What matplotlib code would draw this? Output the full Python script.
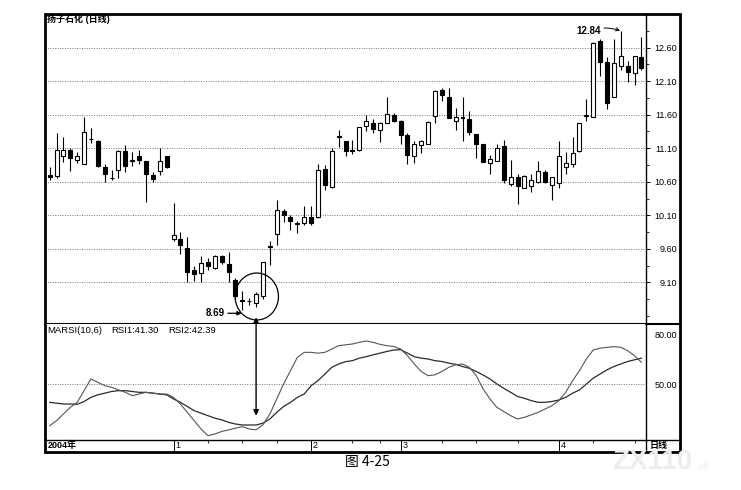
import numpy as np
import matplotlib
matplotlib.use('Agg')
import matplotlib.pyplot as plt
from matplotlib.patches import Ellipse, Rectangle, ConnectionPatch
from matplotlib.lines import Line2D
from matplotlib.transforms import blended_transform_factory

plt.rcParams['font.family'] = ['Liberation Sans', 'Noto Sans CJK SC']

# daily candles
opens = [10.70, 10.69, 10.99, 11.07, 10.92, 10.86, 11.24, 11.21, 10.82, 10.66,
         10.78, 11.06, 10.92, 10.99, 10.91, 10.70, 10.76, 10.99, 9.74, 9.75,
         9.62, 9.29, 9.24, 9.41, 9.31, 9.49, 9.38, 9.14, 8.84, 8.83,
         8.80, 8.89, 9.63, 9.82, 10.17, 10.08, 9.97, 9.99, 10.08, 10.08,
         10.79, 10.52, 11.28, 11.21, 11.06, 11.07, 11.43, 11.48, 11.37, 11.47,
         11.59, 11.50, 11.30, 10.98, 11.15, 11.17, 11.58, 11.96, 11.87, 11.50,
         11.56, 11.54, 11.31, 11.16, 10.88, 10.91, 11.14, 10.56, 10.67, 10.51,
         10.54, 10.60, 10.75, 10.55, 10.58, 10.82, 10.86, 11.06, 11.58, 11.57,
         12.70, 12.38, 11.87, 12.33, 12.32, 12.22, 12.46]
highs = [10.82, 11.32, 11.26, 11.10, 11.05, 11.57, 11.40, 11.22, 10.87, 10.78,
         11.08, 11.15, 11.05, 11.07, 10.91, 10.75, 11.11, 10.99, 10.28, 9.85,
         9.77, 9.34, 9.49, 9.47, 9.51, 9.51, 9.56, 9.16, 8.97, 8.87,
         8.96, 9.41, 9.72, 10.33, 10.20, 10.10, 10.02, 10.24, 10.24, 10.87,
         10.85, 11.10, 11.37, 11.21, 11.22, 11.42, 11.60, 11.53, 11.49, 11.87,
         11.62, 11.52, 11.32, 11.21, 11.22, 11.50, 11.97, 11.99, 11.99, 11.70,
         11.86, 11.65, 11.31, 11.16, 11.00, 11.17, 11.22, 10.92, 10.71, 10.70,
         10.71, 10.91, 10.78, 10.67, 11.20, 11.05, 11.27, 11.48, 11.83, 12.69,
         12.72, 12.46, 12.72, 12.84, 12.40, 12.47, 12.76]
lows = [10.62, 10.65, 10.90, 10.76, 10.88, 10.86, 11.18, 10.82, 10.60, 10.62,
        10.65, 10.75, 10.83, 10.86, 10.30, 10.60, 10.70, 10.81, 9.72, 9.53,
        9.10, 9.12, 9.11, 9.28, 9.30, 9.37, 9.10, 8.85, 8.69, 8.77,
        8.73, 8.85, 9.36, 9.66, 10.00, 9.88, 9.83, 9.96, 9.96, 10.06,
        10.48, 10.50, 11.12, 10.98, 11.02, 11.06, 11.35, 11.32, 11.19, 11.47,
        11.49, 11.16, 10.87, 10.88, 11.03, 11.17, 11.47, 11.80, 11.55, 11.37,
        11.20, 11.30, 10.95, 10.89, 10.72, 10.91, 10.58, 10.53, 10.27, 10.50,
        10.45, 10.58, 10.58, 10.33, 10.50, 10.72, 10.82, 11.05, 11.50, 11.56,
        12.17, 11.69, 11.87, 12.27, 12.09, 12.04, 12.27]
closes = [10.67, 11.08, 11.08, 10.96, 10.98, 11.34, 11.23, 10.84, 10.71, 10.65,
          11.06, 10.83, 10.91, 10.92, 10.71, 10.64, 10.91, 10.82, 9.81, 9.66,
          9.26, 9.22, 9.39, 9.35, 9.49, 9.40, 9.25, 8.89, 8.83, 8.82,
          8.92, 9.41, 9.64, 10.18, 10.11, 10.01, 9.99, 10.08, 9.99, 10.77,
          10.55, 11.06, 11.26, 11.06, 11.07, 11.42, 11.50, 11.38, 11.48, 11.61,
          11.50, 11.29, 11.00, 11.17, 11.21, 11.49, 11.95, 11.89, 11.55, 11.56,
          11.55, 11.34, 11.17, 10.90, 10.94, 11.11, 10.62, 10.67, 10.53, 10.69,
          10.62, 10.76, 10.60, 10.67, 10.98, 10.88, 11.03, 11.48, 11.59, 12.67,
          12.38, 11.78, 12.37, 12.47, 12.23, 12.47, 12.29]

# MARSI(10,6): RSI1 is the smooth line, RSI2 the jumpy one
rsi1 = [39, 38.5, 38, 38, 37.8, 39.5, 42, 43.5, 44.5, 45.5,
        46, 46, 45.5, 45, 45, 44.5, 44, 43.5, 41, 39,
        36.5, 34, 32.5, 31, 29.5, 28.5, 27, 26, 25.4, 25.4,
        25.4, 26.5, 29, 33, 36.5, 39, 42, 44, 49, 52,
        56, 60, 62, 63.4, 64, 65.5, 66.4, 67.5, 68.5, 69.5,
        70.4, 70.6, 68.5, 66.4, 65.5, 65, 64, 63.5, 62.5, 61.8,
        60.5, 59.4, 57.5, 55.4, 53, 50, 47.4, 45, 42.5, 41.4,
        40, 39, 39, 39.5, 40.4, 42, 44.5, 46.4, 50, 53.5,
        56, 58.5, 60.5, 62, 63.5, 64.5, 65.5]
rsi2 = [25, 28, 32, 36, 39, 46, 53, 51, 49, 48,
        46.5, 45, 43, 44, 45, 44.5, 44, 44, 42, 38,
        33, 28, 23, 19, 20, 21.5, 22.5, 23.5, 24.4, 23,
        22.5, 25.5, 32, 41, 50, 58, 66, 69, 69, 68.5,
        69, 71, 73, 73.5, 74, 75, 75.8, 75, 73.8, 73,
        72.5, 71, 67, 62, 57.5, 55, 55.5, 57.5, 60, 61.5,
        62, 60, 55, 47, 41, 36, 33.5, 31, 29, 30,
        31.5, 33, 35, 37, 40, 45, 52, 58, 65, 70.4,
        71.5, 72, 72.4, 72, 70, 67, 63]

price_ticks = [9.10, 9.60, 10.10, 10.60, 11.10, 11.60, 12.10, 12.60]
rsi_ticks = [50, 80]
month_idx = [18, 38, 51, 74]
month_labels = ['1', '2', '3', '4']
week_idx = [23, 28, 33, 44, 48, 57, 62, 68, 79, 85]

opens = np.array(opens)
closes = np.array(closes)
x = np.arange(len(opens))

W, H = 741, 490
L, R, RB = 45, 646, 680
TOP, SEP, XA, BOT = 14, 324, 440, 452

fig = plt.figure(figsize=(W / 100, H / 100), dpi=100)
fig.patch.set_facecolor('white')

ax = fig.add_axes([L / W, 1 - SEP / H, (R - L) / W, (SEP - TOP) / H])
ax2 = fig.add_axes([L / W, 1 - XA / H, (R - L) / W, (XA - SEP) / H])

# candles
up = closes >= opens
ax.vlines(x, lows, highs, color='black', lw=0.8, zorder=2)
ax.bar(x, np.maximum(np.abs(closes - opens), 0.008), 0.58,
       bottom=np.minimum(opens, closes),
       color=np.where(up, 'white', 'black'), edgecolor='black',
       linewidth=0.8, zorder=3)

ax.set_xlim(-0.68, 86.67)
ax.set_ylim(8.48, 13.10)
ax.set_xticks([])
ax.yaxis.tick_right()
ax.set_yticks(price_ticks)
ax.set_yticklabels(['%.2f' % v for v in price_ticks])
ax.set_yticks(np.arange(8.60, 13.0, 0.25), minor=True)
ax.tick_params(axis='y', which='major', direction='out', length=3, width=0.7,
               pad=19.5, labelsize=6.5)
ax.tick_params(axis='y', which='minor', direction='out', length=2, width=0.6)
for lab in ax.get_yticklabels():
    lab.set_horizontalalignment('right')
ax.yaxis.grid(True, which='major', color='#777777', lw=0.7, ls=(0, (1, 1.5)))
ax.set_axisbelow(True)
for s in ['top', 'left']:
    ax.spines[s].set_visible(False)
ax.spines['right'].set_linewidth(1.0)
ax.spines['bottom'].set_linewidth(1.5)

ax.text(0.003, 0.984, '扬子石化 (日线)', transform=ax.transAxes, fontsize=6.5,
        fontweight='bold', va='center', ha='left')

# low / high marks
ax.annotate('8.69', xy=(27.9, 8.64), xytext=(24.1, 8.64), fontsize=7,
            fontweight='bold', va='center', ha='center',
            arrowprops=dict(arrowstyle='-|>', color='black', lw=0.9,
                            mutation_scale=6, shrinkA=0, shrinkB=0))
ax.annotate('12.84', xy=(82.9, 12.85), xytext=(78.4, 12.84), fontsize=7,
            fontweight='bold', va='center', ha='center',
            arrowprops=dict(arrowstyle='->', color='black', lw=0.7,
                            mutation_scale=6, shrinkA=12, shrinkB=0,
                            connectionstyle='arc3,rad=-0.2'))
ax.add_patch(Ellipse((30.1, 8.89), 6.3, 0.70, fill=False, ec='black',
                     lw=0.9, clip_on=False, zorder=4))

# RSI panel
ax2.plot(x, rsi1, color='#2b2b2b', lw=0.9)
ax2.plot(x, rsi2, color='#555555', lw=0.8)
ax2.set_xlim(-0.68, 86.67)
ax2.set_ylim(16.4, 86)
ax2.yaxis.tick_right()
ax2.set_yticks(rsi_ticks)
ax2.set_yticklabels(['%.2f' % v for v in rsi_ticks])
ax2.tick_params(axis='y', length=0, pad=22.3, labelsize=6.5)
for lab in ax2.get_yticklabels():
    lab.set_horizontalalignment('right')
ax2.axhline(50, color='#777777', lw=0.7, ls=(0, (1, 1.5)), zorder=0)
ax2.set_xticks(month_idx)
ax2.set_xticklabels([])
ax2.set_xticks(week_idx, minor=True)
ax2.tick_params(axis='x', which='major', direction='out', length=8.5, width=0.7)
ax2.tick_params(axis='x', which='minor', direction='out', length=2.2, width=0.6)
for s in ['top', 'left']:
    ax2.spines[s].set_visible(False)
ax2.spines['right'].set_linewidth(1.0)
ax2.spines['bottom'].set_linewidth(1.0)

ax2.text(0.003, 0.948, 'MARSI(10,6)', transform=ax2.transAxes, fontsize=6.8,
         va='center', ha='left')
ax2.text(0.110, 0.948, 'RSI1:41.30', transform=ax2.transAxes, fontsize=6.8,
         va='center', ha='left')
ax2.text(0.205, 0.948, 'RSI2:42.39', transform=ax2.transAxes, fontsize=6.8,
         va='center', ha='left')

tr = blended_transform_factory(ax2.transData, ax2.transAxes)
for mi, lab in zip(month_idx, month_labels):
    ax2.text(mi + 0.25, -0.048, lab, transform=tr, fontsize=6.5,
             va='center', ha='left')
ax2.text(0.004, -0.048, '2004年', transform=ax2.transAxes, fontsize=6.5,
         fontweight='bold', va='center', ha='left')
ax2.text((R + 4 - L) / (R - L), -0.048, '日线', transform=ax2.transAxes,
         fontsize=6.5, fontweight='bold', va='center', ha='left')

# double arrow between the low and the RSI trough
fig.add_artist(ConnectionPatch(xyA=(30, 8.58), coordsA=ax.transData,
                               xyB=(30, 31.0), coordsB=ax2.transData,
                               arrowstyle='<|-|>', mutation_scale=8,
                               lw=1.0, color='black'))

# frame
def fx(p):
    return p / W

def fy(p):
    return 1 - p / H

fig.add_artist(Rectangle((fx(L), fy(BOT)), fx(RB) - fx(L), fy(TOP) - fy(BOT),
                         transform=fig.transFigure, fill=False, ec='black', lw=2.0))
fig.add_artist(Line2D([fx(R), fx(RB)], [fy(SEP)] * 2, transform=fig.transFigure,
                      color='black', lw=1.5))
fig.add_artist(Line2D([fx(R), fx(RB)], [fy(XA)] * 2, transform=fig.transFigure,
                      color='black', lw=1.0))
fig.add_artist(Line2D([fx(R)] * 2, [fy(XA), fy(BOT)], transform=fig.transFigure,
                      color='black', lw=1.0))

fig.text(fx(367), fy(462), '图 4-25', fontsize=10, ha='center', va='center',
         family=['Noto Sans CJK SC', 'DejaVu Sans'])
fig.text(fx(652), fy(462), 'ZX110', fontsize=20, ha='center', va='center',
         color='#ededed', fontweight='bold')
fig.text(fx(703), fy(466), '.uk', fontsize=7, ha='center', va='center',
         color='#ededed')

fig.savefig('out.png', dpi=100)
